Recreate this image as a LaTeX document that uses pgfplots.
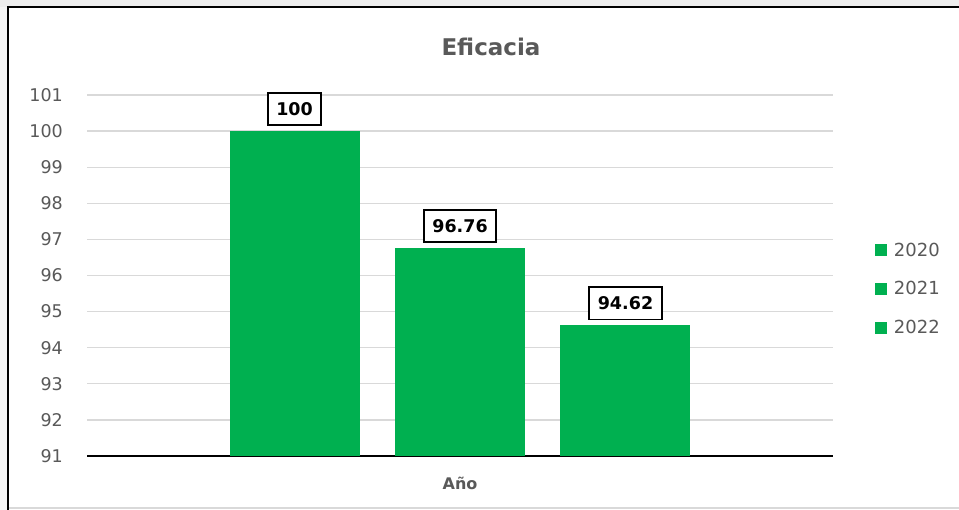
\documentclass[border=0pt]{standalone}
\usepackage{fontspec}
\setmainfont{DejaVu Sans}
\usepackage{pgfplots}
\pgfplotsset{compat=1.18}
\definecolor{bargreen}{HTML}{00B050}
\definecolor{txtgray}{HTML}{595959}
\definecolor{gridgray}{HTML}{D9D9D9}
\begin{document}
\begin{tikzpicture}[x=1bp,y=1bp]
\path[use as bounding box] (0,0) rectangle (959,510);
\fill[white] (0,0) rectangle (959,510);
\fill[black!7] (0,503) rectangle (959,510);
\fill[black!4] (0,0) rectangle (8,503);
\draw[gridgray, line width=1.5bp] (8,2) -- (959,2);
\draw[black, line width=2bp] (8,0) -- (8,503) -- (959,503);
\node[font=\bfseries\fontsize{23bp}{27bp}\selectfont, text=txtgray] at (491,463) {Eficacia};
\begin{axis}[
  at={(87bp,54bp)}, anchor=south west,
  scale only axis, width=746bp, height=361bp,
  xmin=-1.254, xmax=3.254, ymin=91, ymax=101,
  ytick={91,92,...,101}, xtick=\empty,
  ymajorgrids, grid style={gridgray, line width=1.3bp},
  axis lines*=left,
  y axis line style={draw=none},
  x axis line style={black, line width=1.6bp, -},
  major tick length=0pt,
  /pgf/number format/assume math mode=true,
  /pgf/number format/fixed, /pgf/number format/precision=2,
  yticklabel style={font=\fontsize{17.5bp}{20bp}\selectfont, text=txtgray, anchor=east, inner sep=0pt, xshift=-24bp},
  xlabel={Año},
  xlabel style={font=\bfseries\fontsize{16bp}{19bp}\selectfont, text=txtgray, at={(axis description cs:0.5,-0.075)}, anchor=center},
  ybar, bar width=130bp,
  nodes near coords,
  every node near coord/.append style={draw=black, line width=1.8bp, fill=white, text=black,
     font=\bfseries\fontsize{17.5bp}{20bp}\selectfont, inner xsep=8.5bp, inner ysep=9.5bp, anchor=south, yshift=5bp},
  legend style={at={(rel axis cs:1.052,0.4626)}, anchor=west, draw=none, fill=none,
     font=\fontsize{18bp}{21bp}\selectfont, text=txtgray, row sep=20bp,
     /tikz/every odd column/.append style={column sep=5bp}},
  legend cell align=left,
  legend image code/.code={\fill[bargreen] (0bp,-6bp) rectangle (12bp,6bp);},
]
\addplot[fill=bargreen, draw=none, bar shift=0pt] coordinates {(0,100)};
\addlegendentry{2020}
\addplot[fill=bargreen, draw=none, bar shift=0pt] coordinates {(1,96.76)};
\addlegendentry{2021}
\addplot[fill=bargreen, draw=none, bar shift=0pt] coordinates {(2,94.62)};
\addlegendentry{2022}
\end{axis}
\end{tikzpicture}
\end{document}
